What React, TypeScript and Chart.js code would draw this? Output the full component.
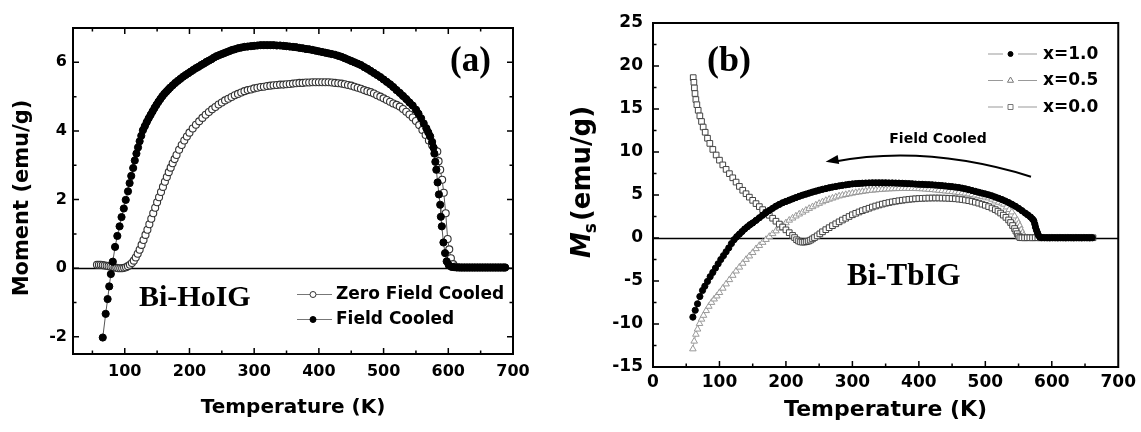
import React, { useEffect, useRef } from 'react';
import { Chart, registerables } from 'chart.js';

Chart.register(...registerables);

type Pt = [number, number];

// ---------- Panel (a): Bi-HoIG, Moment (emu/g) vs Temperature (K) ----------
const hoZFC: Pt[] = [
  [57, 0.10], [60, 0.10], [63, 0.10], [66, 0.09], [69, 0.08], [72, 0.07], [75, 0.06], [78, 0.05], [81, 0.04], [84, 0.02],
  [87, 0.01], [90, 0.00], [93, 0.00], [96, 0.00], [99, 0.01], [102, 0.03], [105, 0.06], [108, 0.10], [111, 0.15], [114, 0.22],
  [117, 0.31], [120, 0.42], [123, 0.54], [126, 0.68], [129, 0.82], [132, 0.97], [135, 1.12], [138, 1.28], [141, 1.44], [144, 1.60],
  [147, 1.76], [150, 1.92], [153, 2.07], [156, 2.22], [159, 2.37], [162, 2.52], [165, 2.66], [168, 2.80], [171, 2.93], [174, 3.06],
  [177, 3.18], [180, 3.30], [184, 3.45], [188, 3.59], [192, 3.72], [196, 3.84], [200, 3.95], [205, 4.07], [210, 4.18], [215, 4.28],
  [220, 4.38], [225, 4.47], [230, 4.55], [235, 4.63], [240, 4.70], [245, 4.77], [250, 4.83], [255, 4.89], [260, 4.94], [265, 4.99],
  [270, 5.04], [275, 5.08], [280, 5.12], [285, 5.16], [290, 5.19], [295, 5.21], [300, 5.24], [305, 5.26], [310, 5.28], [315, 5.29],
  [320, 5.31], [325, 5.32], [330, 5.33], [335, 5.34], [340, 5.35], [345, 5.35], [350, 5.36], [355, 5.37], [360, 5.38], [365, 5.39],
  [370, 5.40], [375, 5.40], [380, 5.41], [385, 5.41], [390, 5.42], [395, 5.42], [400, 5.42], [405, 5.42], [410, 5.42], [415, 5.42],
  [420, 5.41], [425, 5.40], [430, 5.39], [435, 5.38], [440, 5.36], [445, 5.34], [450, 5.32], [455, 5.29], [460, 5.26], [465, 5.23],
  [470, 5.19], [475, 5.16], [480, 5.13], [485, 5.09], [490, 5.04], [495, 5.00], [500, 4.95], [505, 4.90], [510, 4.85], [515, 4.80],
  [520, 4.76], [525, 4.71], [530, 4.64], [535, 4.56], [540, 4.48], [545, 4.39], [550, 4.29], [555, 4.17], [560, 4.03], [565, 3.88],
  [570, 3.72], [575, 3.58], [579, 3.45], [583, 3.40], [585, 3.12], [587.5, 2.87], [590.5, 2.58], [593, 2.20], [596, 1.60], [599, 0.85],
  [601.5, 0.55], [604, 0.29], [607.5, 0.12], [611, 0.05], [615, 0.03], [619, 0.02], [623, 0.02], [627, 0.02], [631, 0.02], [635, 0.02],
  [639, 0.02], [643, 0.02], [647, 0.02], [651, 0.02], [655, 0.02], [659, 0.02], [663, 0.02], [667, 0.02], [671, 0.02], [675, 0.02],
  [679, 0.02], [683, 0.02], [687, 0.02],
];

const hoFC: Pt[] = [
  [66, -2.02], [70.5, -1.33], [73.5, -0.90], [76, -0.53], [78.5, -0.17], [81.5, 0.19], [85, 0.62], [88.5, 0.94], [92, 1.22], [95, 1.49],
  [98.5, 1.74], [101.5, 1.99], [105, 2.24], [107.5, 2.48], [110, 2.69], [113, 2.92], [115.5, 3.14], [118, 3.34], [120.5, 3.52], [123, 3.70],
  [125.5, 3.86], [128, 4.02], [131, 4.14], [134, 4.26], [137, 4.37], [140, 4.47], [143, 4.57], [146, 4.67], [149, 4.76], [152, 4.85],
  [155, 4.93], [158, 5.01], [161, 5.08], [164, 5.14], [167, 5.20], [170, 5.26], [174, 5.33], [178, 5.40], [182, 5.46], [186, 5.52],
  [190, 5.58], [194, 5.63], [198, 5.68], [202, 5.73], [206, 5.78], [210, 5.83], [214, 5.87], [218, 5.92], [222, 5.96], [226, 6.01],
  [230, 6.05], [234, 6.09], [238, 6.14], [242, 6.18], [246, 6.21], [250, 6.24], [254, 6.27], [258, 6.30], [262, 6.33], [266, 6.36],
  [270, 6.38], [275, 6.41], [280, 6.43], [285, 6.45], [290, 6.46], [295, 6.47], [300, 6.48], [305, 6.49], [310, 6.50], [315, 6.50],
  [320, 6.50], [325, 6.50], [330, 6.50], [335, 6.49], [340, 6.49], [345, 6.48], [350, 6.47], [355, 6.46], [360, 6.45], [365, 6.44],
  [370, 6.42], [375, 6.41], [380, 6.39], [385, 6.38], [390, 6.36], [395, 6.34], [400, 6.32], [405, 6.30], [410, 6.28], [415, 6.26],
  [420, 6.24], [425, 6.22], [430, 6.19], [435, 6.16], [440, 6.12], [445, 6.08], [450, 6.04], [455, 6.00], [460, 5.96], [465, 5.92],
  [470, 5.86], [475, 5.81], [480, 5.75], [485, 5.69], [490, 5.63], [495, 5.57], [500, 5.50], [505, 5.43], [510, 5.36], [515, 5.28],
  [520, 5.19], [525, 5.11], [530, 5.02], [535, 4.93], [540, 4.83], [545, 4.74], [550, 4.62], [554, 4.50], [558, 4.37], [562, 4.22],
  [566, 4.08], [569, 3.96], [572, 3.84], [575, 3.68], [577, 3.52], [578.5, 3.34], [580, 3.10], [581.5, 2.87], [583.5, 2.50], [585.5, 2.15],
  [587.5, 1.85], [588.5, 1.50], [590, 1.22], [592.5, 0.75], [595, 0.44], [597.5, 0.20], [601, 0.08], [605, 0.04], [609, 0.03], [613, 0.02],
  [617, 0.02], [621, 0.02], [625, 0.02], [629, 0.02], [633, 0.02], [637, 0.02], [641, 0.02], [645, 0.02], [649, 0.02], [653, 0.02],
  [657, 0.02], [661, 0.02], [665, 0.02], [669, 0.02], [673, 0.02], [677, 0.02], [681, 0.02], [685, 0.02], [688, 0.02],
];

const aXLabels = [100, 200, 300, 400, 500, 600, 700];
const aYLabels = [-2, 0, 2, 4, 6];
const aLegend = ['Zero Field Cooled', 'Field Cooled'];

// ---------- Panel (b): Bi-TbIG, Ms (emu/g) vs Temperature (K) ----------
const tbX10: Pt[] = [
  [60, -9.2], [63.5, -8.4], [67, -7.65], [70.5, -6.8], [74.5, -6.1], [78, -5.6], [82, -5.05], [86, -4.5], [90, -4.0], [94, -3.5],
  [98, -3.0], [102, -2.5], [106, -2.05], [110, -1.6], [114, -1.15], [118, -0.65], [122, -0.2], [126, 0.15], [130, 0.45], [134, 0.75],
  [138, 1.05], [142, 1.3], [146, 1.55], [150, 1.75], [155, 2.05], [160, 2.35], [165, 2.65], [170, 2.95], [175, 3.2], [180, 3.45],
  [185, 3.7], [190, 3.9], [195, 4.1], [200, 4.25], [205, 4.4], [210, 4.55], [215, 4.7], [220, 4.85], [225, 4.98], [230, 5.1],
  [235, 5.22], [240, 5.34], [245, 5.45], [250, 5.56], [255, 5.66], [260, 5.75], [265, 5.84], [270, 5.92], [275, 5.99], [280, 6.06],
  [285, 6.12], [290, 6.18], [295, 6.24], [300, 6.29], [305, 6.32], [310, 6.35], [315, 6.37], [320, 6.39], [325, 6.4], [330, 6.41],
  [335, 6.41], [340, 6.41], [345, 6.41], [350, 6.41], [355, 6.4], [360, 6.4], [365, 6.39], [370, 6.38], [375, 6.36], [380, 6.34],
  [385, 6.32], [390, 6.3], [395, 6.27], [400, 6.25], [405, 6.24], [410, 6.22], [415, 6.2], [420, 6.18], [425, 6.15], [430, 6.12],
  [435, 6.09], [440, 6.05], [445, 6.01], [450, 5.97], [455, 5.92], [460, 5.87], [465, 5.8], [470, 5.72], [475, 5.62], [480, 5.52],
  [485, 5.42], [490, 5.32], [495, 5.22], [500, 5.12], [505, 5.02], [510, 4.9], [515, 4.76], [520, 4.62], [525, 4.47], [530, 4.3],
  [535, 4.12], [540, 3.92], [545, 3.7], [550, 3.45], [555, 3.18], [560, 2.9], [564, 2.68], [568, 2.44], [571, 2.2], [573, 2.0],
  [574.5, 1.6], [575.5, 1.25], [577, 0.9], [578.5, 0.6], [580, 0.3], [582, 0.1], [585, 0.04], [589, 0.03], [593, 0.03], [597, 0.02],
  [601, 0.03], [605, 0.03], [609, 0.02], [613, 0.03], [617, 0.03], [621, 0.02], [625, 0.03], [629, 0.03], [633, 0.02], [637, 0.03],
  [641, 0.03], [645, 0.02], [649, 0.03], [653, 0.03], [657, 0.02], [661, 0.03],
];

const tbX05: Pt[] = [
  [60, -12.9], [62, -12.0], [64.5, -11.2], [67, -10.6], [70, -9.95], [73, -9.45], [76, -9.0], [80, -8.45], [84, -7.95], [88, -7.5],
  [92, -7.1], [96, -6.75], [100, -6.35], [105, -5.85], [110, -5.35], [115, -4.85], [120, -4.35], [125, -3.85], [130, -3.4], [135, -2.95],
  [140, -2.5], [145, -2.1], [150, -1.7], [155, -1.25], [160, -0.88], [165, -0.52], [170, -0.18], [175, 0.17], [180, 0.5], [185, 0.82],
  [190, 1.14], [195, 1.45], [200, 1.76], [205, 2.06], [210, 2.31], [215, 2.55], [220, 2.78], [225, 3.0], [230, 3.22], [235, 3.43],
  [240, 3.63], [245, 3.83], [250, 4.02], [255, 4.2], [260, 4.36], [265, 4.5], [270, 4.63], [275, 4.76], [280, 4.88], [285, 4.97],
  [290, 5.05], [295, 5.13], [300, 5.21], [305, 5.28], [310, 5.34], [315, 5.4], [320, 5.46], [325, 5.51], [330, 5.55], [335, 5.59],
  [340, 5.62], [345, 5.65], [350, 5.68], [355, 5.7], [360, 5.72], [365, 5.73], [370, 5.74], [375, 5.75], [380, 5.75], [385, 5.75],
  [390, 5.75], [395, 5.74], [400, 5.73], [405, 5.71], [410, 5.68], [415, 5.65], [420, 5.62], [425, 5.58], [430, 5.54], [435, 5.5],
  [440, 5.46], [445, 5.42], [450, 5.38], [455, 5.33], [460, 5.28], [465, 5.24], [470, 5.2], [475, 5.12], [480, 5.05], [485, 4.98],
  [490, 4.9], [495, 4.83], [500, 4.75], [505, 4.65], [510, 4.5], [515, 4.3], [520, 4.15], [525, 4.05], [528, 3.92], [532, 3.6],
  [536, 3.3], [540, 3.02], [544, 2.55], [548, 2.06], [550, 1.7], [552, 1.4], [554, 0.95], [556, 0.6], [558, 0.3], [560, 0.08],
  [564, 0.03], [568, 0.02], [572, 0.03], [576, 0.03], [580, 0.02], [584, 0.03], [588, 0.03], [592, 0.02], [596, 0.03], [600, 0.03],
  [604, 0.02], [608, 0.03], [612, 0.03], [616, 0.02], [620, 0.03], [624, 0.03], [628, 0.02], [632, 0.03], [636, 0.03], [640, 0.02],
  [644, 0.03], [648, 0.03], [652, 0.02], [656, 0.03], [660, 0.03],
];

const tbX00: Pt[] = [
  [60.5, 18.65], [61.5, 18.1], [62.3, 17.45], [63.2, 16.8], [64.5, 16.1], [66, 15.5], [68, 14.85], [70.5, 14.2], [73, 13.55], [75.5, 12.9],
  [78.5, 12.3], [82, 11.6], [85.5, 11.0], [90, 10.3], [95, 9.65], [100, 9.05], [105, 8.5], [110, 7.98], [115, 7.48], [120, 7.0],
  [125, 6.5], [130, 6.0], [135, 5.55], [140, 5.15], [145, 4.75], [150, 4.38], [155, 4.0], [160, 3.65], [165, 3.3], [170, 2.97],
  [175, 2.64], [180, 2.3], [185, 1.95], [190, 1.62], [195, 1.28], [200, 0.95], [205, 0.62], [210, 0.3], [213, 0.05], [216, -0.2],
  [219, -0.35], [222, -0.45], [225, -0.48], [228, -0.47], [231, -0.43], [234, -0.36], [237, -0.25], [240, -0.1], [243, 0.05], [247, 0.25],
  [251, 0.48], [255, 0.72], [260, 0.97], [265, 1.2], [270, 1.43], [275, 1.65], [280, 1.88], [285, 2.09], [290, 2.3], [295, 2.5],
  [300, 2.7], [305, 2.87], [310, 3.03], [315, 3.18], [320, 3.32], [325, 3.46], [330, 3.6], [335, 3.72], [340, 3.84], [345, 3.94],
  [350, 4.04], [355, 4.12], [360, 4.2], [365, 4.27], [370, 4.33], [375, 4.39], [380, 4.44], [385, 4.49], [390, 4.53], [395, 4.56],
  [400, 4.59], [405, 4.61], [410, 4.63], [415, 4.64], [420, 4.65], [425, 4.65], [430, 4.65], [435, 4.64], [440, 4.63], [445, 4.61],
  [450, 4.59], [455, 4.56], [460, 4.52], [465, 4.47], [470, 4.41], [475, 4.34], [480, 4.26], [485, 4.16], [490, 4.05], [495, 3.93],
  [500, 3.8], [505, 3.65], [510, 3.48], [515, 3.3], [519, 3.12], [523, 2.9], [527, 2.66], [531, 2.4], [535, 2.1], [538, 1.8],
  [541, 1.45], [544, 1.1], [546, 0.8], [548, 0.5], [550, 0.22], [552, 0.05], [555, 0.03], [559, 0.02], [563, 0.03], [567, 0.03],
  [571, 0.02], [575, 0.03], [579, 0.03], [583, 0.02], [587, 0.03], [591, 0.03], [595, 0.02], [599, 0.03], [603, 0.03], [607, 0.02],
  [611, 0.03], [615, 0.03], [619, 0.02], [623, 0.03], [627, 0.03], [631, 0.02], [635, 0.03], [639, 0.03], [643, 0.02], [647, 0.03],
  [651, 0.03], [655, 0.02], [659, 0.03], [662, 0.03],
];

const bXLabels = [0, 100, 200, 300, 400, 500, 600, 700];
const bYLabels = [-15, -10, -5, 0, 5, 10, 15, 20, 25];
const bLegend = ['x=1.0', 'x=0.5', 'x=0.0'];
// "Field Cooled" arrow: tail, curve control, tip (Temperature, Ms)
const arrowPath: Pt[] = [[568.7, 7.13], [411.6, 10.9], [259.7, 8.87]];

const SANS = '"DejaVu Sans"';
const SERIF = '"Liberation Serif"';

const toXY = (arr: Pt[]) => arr.map(([x, y]) => ({ x, y }));

// Where filled markers sit closer than their own size, the band between them is filled solid.
function denseSegment(gap: number, thick: number, thinColor: string) {
  const dist = (c: any) => Math.hypot(c.p1.x - c.p0.x, c.p1.y - c.p0.y);
  return {
    borderWidth: (c: any) => (dist(c) < gap ? thick : 1),
    borderColor: (c: any) => (dist(c) < gap ? '#000' : thinColor),
  };
}

function framePlugin(o: { xMinor: number; xMajor: number; yMinor: number; yMajor: number; mirror: boolean }) {
  return {
    id: 'frame',
    beforeDatasetsDraw(chart: any) {
      const { ctx, chartArea: a, scales } = chart;
      const y0 = Math.round(scales.y.getPixelForValue(0)) + 0.5;
      ctx.save();
      ctx.strokeStyle = '#000';
      ctx.lineWidth = 1.6;
      ctx.beginPath();
      ctx.moveTo(a.left, y0);
      ctx.lineTo(a.right, y0);
      ctx.stroke();
      ctx.restore();
    },
    afterDatasetsDraw(chart: any) {
      const { ctx, chartArea: a, scales } = chart;
      ctx.save();
      ctx.strokeStyle = '#000';
      ctx.lineWidth = 2;
      ctx.strokeRect(a.left, a.top, a.right - a.left, a.bottom - a.top);
      ctx.lineWidth = 1.5;
      const near = (v: number, s: number) => Math.abs(v / s - Math.round(v / s)) < 1e-6;
      ctx.beginPath();
      for (const t of scales.x.ticks) {
        const v = t.value;
        if (!near(v, o.xMinor)) continue;
        const len = near(v, o.xMajor) ? 6 : 3.5;
        const px = scales.x.getPixelForValue(v);
        if (px <= a.left + 1 || px >= a.right - 1) continue;
        ctx.moveTo(px, a.bottom);
        ctx.lineTo(px, a.bottom - len);
        if (o.mirror) {
          ctx.moveTo(px, a.top);
          ctx.lineTo(px, a.top + len);
        }
      }
      for (const t of scales.y.ticks) {
        const v = t.value;
        if (!near(v, o.yMinor)) continue;
        const len = near(v, o.yMajor) ? 6 : 3.5;
        const py = scales.y.getPixelForValue(v);
        if (py <= a.top + 1 || py >= a.bottom - 1) continue;
        ctx.moveTo(a.left, py);
        ctx.lineTo(a.left + len, py);
        if (o.mirror) {
          ctx.moveTo(a.right, py);
          ctx.lineTo(a.right - len, py);
        }
      }
      ctx.stroke();
      ctx.restore();
    },
  };
}

function drawMarker(ctx: CanvasRenderingContext2D, kind: string, x: number, y: number, r: number, stroke: string, fill: string) {
  ctx.save();
  ctx.strokeStyle = stroke;
  ctx.fillStyle = fill;
  ctx.lineWidth = 1;
  ctx.beginPath();
  if (kind === 'circle') {
    ctx.arc(x, y, r, 0, Math.PI * 2);
  } else if (kind === 'triangle') {
    ctx.moveTo(x, y - r);
    ctx.lineTo(x + r * 0.87, y + r * 0.5);
    ctx.lineTo(x - r * 0.87, y + r * 0.5);
    ctx.closePath();
  } else {
    ctx.rect(x - r, y - r, 2 * r, 2 * r);
  }
  ctx.fill();
  ctx.stroke();
  ctx.restore();
}

const textA = {
  id: 'textA',
  afterDraw(chart: any) {
    const { ctx, chartArea: a } = chart;
    ctx.save();
    ctx.fillStyle = '#000';
    ctx.textBaseline = 'alphabetic';
    ctx.textAlign = 'center';
    ctx.font = `bold 20px ${SANS}`;
    ctx.fillText('Temperature (K)', (a.left + a.right) / 2, 413);
    ctx.save();
    ctx.translate(28, 198);
    ctx.rotate(-Math.PI / 2);
    ctx.font = `bold 21px ${SANS}`;
    ctx.fillText('Moment (emu/g)', 0, 0);
    ctx.restore();
    ctx.textAlign = 'left';
    ctx.font = `bold 35px ${SERIF}`;
    ctx.fillText('(a)', 450, 71);
    ctx.font = `bold 30px ${SERIF}`;
    ctx.fillText('Bi-HoIG', 139, 306);
    // legend
    const rows = [294, 319];
    ctx.font = `bold 17px ${SANS}`;
    ctx.textBaseline = 'middle';
    rows.forEach((ry, i) => {
      ctx.save();
      ctx.strokeStyle = '#777';
      ctx.lineWidth = 1;
      ctx.beginPath();
      ctx.moveTo(297, ry + 0.5);
      ctx.lineTo(332, ry + 0.5);
      ctx.stroke();
      ctx.restore();
      drawMarker(ctx, 'circle', 313, ry + 0.5, 3, i === 0 ? '#333' : '#000', i === 0 ? '#fff' : '#000');
      ctx.fillText(aLegend[i], 336, ry + 1);
    });
    ctx.restore();
  },
};

const textB = {
  id: 'textB',
  afterDraw(chart: any) {
    const { ctx, chartArea: a, scales } = chart;
    ctx.save();
    ctx.fillStyle = '#000';
    ctx.textBaseline = 'alphabetic';
    ctx.textAlign = 'center';
    ctx.font = `bold 22px ${SANS}`;
    ctx.fillText('Temperature (K)', (a.left + a.right) / 2, 416);
    // y title: Ms (emu/g)
    ctx.save();
    ctx.translate(20, 258);
    ctx.rotate(-Math.PI / 2);
    ctx.textAlign = 'left';
    ctx.font = `italic bold 26px ${SANS}`;
    ctx.fillText('M', 0, 0);
    let w = ctx.measureText('M').width;
    ctx.font = `bold 17px ${SANS}`;
    ctx.fillText('s', w - 1, 6);
    w += ctx.measureText('s').width + 1;
    ctx.font = `bold 26px ${SANS}`;
    ctx.fillText('(emu/g)', w, 0);
    ctx.restore();
    ctx.textAlign = 'left';
    ctx.font = `bold 36px ${SERIF}`;
    ctx.fillText('(b)', 137, 71);
    ctx.font = `bold 31px ${SERIF}`;
    ctx.fillText('Bi-TbIG', 277, 285);
    ctx.textAlign = 'center';
    ctx.font = `bold 14px ${SANS}`;
    ctx.fillText('Field Cooled', 368, 143);
    // arrow
    const p = arrowPath.map(([t, m]) => [scales.x.getPixelForValue(t), scales.y.getPixelForValue(m)]);
    ctx.strokeStyle = '#000';
    ctx.lineWidth = 2;
    ctx.beginPath();
    ctx.moveTo(p[0][0], p[0][1]);
    ctx.quadraticCurveTo(p[1][0], p[1][1], p[2][0] + 8, p[2][1]);
    ctx.stroke();
    const ang = Math.atan2(p[2][1] - p[1][1], p[2][0] - p[1][0]);
    const L = 13, H = 4.5;
    ctx.beginPath();
    ctx.moveTo(p[2][0], p[2][1]);
    ctx.lineTo(p[2][0] - L * Math.cos(ang) + H * Math.sin(ang), p[2][1] - L * Math.sin(ang) - H * Math.cos(ang));
    ctx.lineTo(p[2][0] - L * Math.cos(ang) - H * Math.sin(ang), p[2][1] - L * Math.sin(ang) + H * Math.cos(ang));
    ctx.closePath();
    ctx.fillStyle = '#000';
    ctx.fill();
    // legend
    const rows = [53.5, 80, 106.5];
    const kinds = ['circle', 'triangle', 'rect'];
    ctx.textAlign = 'left';
    ctx.textBaseline = 'middle';
    ctx.font = `bold 17px ${SANS}`;
    rows.forEach((ry, i) => {
      ctx.save();
      ctx.strokeStyle = '#999';
      ctx.lineWidth = 1;
      ctx.beginPath();
      ctx.moveTo(418, ry + 0.5);
      ctx.lineTo(433, ry + 0.5);
      ctx.moveTo(448, ry + 0.5);
      ctx.lineTo(467, ry + 0.5);
      ctx.stroke();
      ctx.restore();
      if (i === 0) drawMarker(ctx, 'circle', 440.5, ry + 0.5, 2.5, '#000', '#000');
      else drawMarker(ctx, kinds[i], 440.5, ry + 0.5, i === 1 ? 3.5 : 2.5, '#777', '#fff');
      ctx.fillStyle = '#000';
      ctx.fillText(bLegend[i], 473, ry + 1);
    });
    ctx.restore();
  },
};

function tickFont(size: number) {
  return { family: SANS, weight: 'bold' as const, size };
}

export default function App() {
  const refA = useRef<HTMLCanvasElement | null>(null);
  const refB = useRef<HTMLCanvasElement | null>(null);

  useEffect(() => {
    const chartA = new Chart(refA.current as HTMLCanvasElement, {
      type: 'scatter',
      data: {
        datasets: [
          {
            label: 'Field Cooled',
            data: toXY(hoFC),
            showLine: true,
            borderColor: '#555',
            borderWidth: 1,
            segment: denseSegment(5, 7, '#555'),
            pointStyle: 'circle',
            pointRadius: 3.6,
            pointBackgroundColor: '#000',
            pointBorderColor: '#000',
            pointBorderWidth: 1,
            order: 0,
          },
          {
            label: 'Zero Field Cooled',
            data: toXY(hoZFC),
            showLine: true,
            borderColor: '#555',
            borderWidth: 1,
            pointStyle: 'circle',
            pointRadius: 3.5,
            pointBackgroundColor: '#fff',
            pointBorderColor: '#333',
            pointBorderWidth: 1.1,
            order: 1,
          },
        ],
      },
      options: {
        animation: false,
        responsive: false,
        devicePixelRatio: 1,
        events: [],
        layout: { padding: { top: 28, right: 57, left: 0, bottom: 0 } },
        plugins: { legend: { display: false }, tooltip: { enabled: false } },
        scales: {
          x: {
            type: 'linear',
            min: 20,
            max: 700,
            grid: { display: false, drawTicks: false },
            border: { display: false },
            ticks: {
              stepSize: 50,
              includeBounds: false,
              autoSkip: false,
              maxRotation: 0,
              padding: 8,
              color: '#000',
              font: tickFont(16),
              callback: (v: any) => (aXLabels.includes(Number(v)) ? String(v) : ''),
            },
            afterFit: (s: any) => {
              s.height = 78;
            },
          },
          y: {
            type: 'linear',
            min: -2.5,
            max: 7,
            grid: { display: false, drawTicks: false },
            border: { display: false },
            ticks: {
              stepSize: 1,
              includeBounds: false,
              autoSkip: false,
              padding: 6,
              color: '#000',
              font: tickFont(16),
              callback: (v: any) => (aYLabels.includes(Number(v)) ? String(v) : ''),
            },
            afterFit: (s: any) => {
              s.width = 73;
            },
          },
        },
      },
      plugins: [framePlugin({ xMinor: 50, xMajor: 100, yMinor: 1, yMajor: 2, mirror: true }), textA],
    } as any);

    const chartB = new Chart(refB.current as HTMLCanvasElement, {
      type: 'scatter',
      data: {
        datasets: [
          {
            label: 'x=1.0',
            data: toXY(tbX10),
            showLine: true,
            borderColor: '#777',
            borderWidth: 1,
            segment: denseSegment(4.5, 6, '#777'),
            pointStyle: 'circle',
            pointRadius: 3.1,
            pointBackgroundColor: '#000',
            pointBorderColor: '#000',
            pointBorderWidth: 1,
            order: 0,
          },
          {
            label: 'x=0.5',
            data: toXY(tbX05),
            showLine: true,
            borderColor: '#aaa',
            borderWidth: 1,
            pointStyle: 'triangle',
            pointRadius: 3.8,
            pointBackgroundColor: '#fff',
            pointBorderColor: '#999',
            pointBorderWidth: 1,
            order: 2,
          },
          {
            label: 'x=0.0',
            data: toXY(tbX00),
            showLine: true,
            borderColor: '#777',
            borderWidth: 1,
            pointStyle: 'rect',
            pointRadius: 4,
            pointBackgroundColor: '#fff',
            pointBorderColor: '#444',
            pointBorderWidth: 1,
            order: 1,
          },
        ],
      },
      options: {
        animation: false,
        responsive: false,
        devicePixelRatio: 1,
        events: [],
        layout: { padding: { top: 23, right: 19, left: 0, bottom: 0 } },
        plugins: { legend: { display: false }, tooltip: { enabled: false } },
        scales: {
          x: {
            type: 'linear',
            min: 0,
            max: 700,
            grid: { display: false, drawTicks: false },
            border: { display: false },
            ticks: {
              stepSize: 50,
              includeBounds: false,
              autoSkip: false,
              maxRotation: 0,
              padding: 5,
              color: '#000',
              font: tickFont(17),
              callback: (v: any) => (bXLabels.includes(Number(v)) ? String(v) : ''),
            },
            afterFit: (s: any) => {
              s.height = 65;
            },
          },
          y: {
            type: 'linear',
            min: -15,
            max: 25,
            grid: { display: false, drawTicks: false },
            border: { display: false },
            ticks: {
              stepSize: 2.5,
              includeBounds: false,
              autoSkip: false,
              padding: 10,
              color: '#000',
              font: tickFont(17),
              callback: (v: any) => (bYLabels.includes(Number(v)) ? String(v) : ''),
            },
            afterFit: (s: any) => {
              s.width = 83;
            },
          },
        },
      },
      plugins: [framePlugin({ xMinor: 50, xMajor: 100, yMinor: 2.5, yMajor: 5, mirror: false }), textB],
    } as any);

    return () => {
      chartA.destroy();
      chartB.destroy();
    };
  }, []);

  return (
    <div style={{ position: 'absolute', left: 0, top: 0, width: 1141, height: 432, background: '#fff', overflow: 'hidden' }}>
      <canvas ref={refA} width={570} height={432} style={{ position: 'absolute', left: 0, top: 0 }} />
      <canvas ref={refB} width={571} height={432} style={{ position: 'absolute', left: 570, top: 0 }} />
    </div>
  );
}
